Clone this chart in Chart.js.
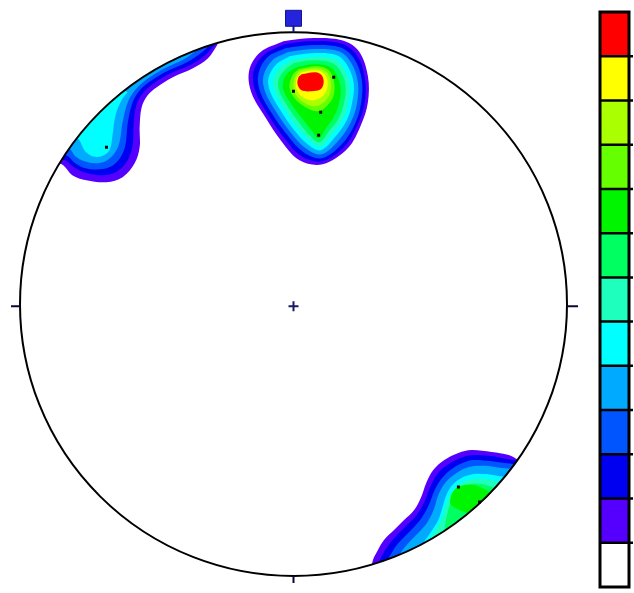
<!DOCTYPE html>
<html>
<head>
<meta charset="utf-8">
<script src="https://cdn.jsdelivr.net/npm/chart.js@4/dist/chart.umd.min.js"></script>
<style>
html,body{margin:0;padding:0;background:#fff;width:634px;height:593px;overflow:hidden}
#net{position:absolute;left:0;top:0}
#bar{position:absolute;left:596px;top:8px}
</style>
</head>
<body>
<canvas id="net" width="590" height="593"></canvas>
<canvas id="bar" width="38" height="585"></canvas>
<script>
// ---- contour level colours (0 = background ... 12 = maximum density) ----
const levelColors = ['#ffffff','#5500ff','#0000f0','#0055ff','#00aaff','#00ffff','#1effbe','#00ff60','#00f500','#66ff00','#aaff00','#ffff00','#ff0000'];
const colourBarSteps = [1,1,1,1,1,1,1,1,1,1,1,1,1];

// ---- projection: primitive circle radius in net units; extra room above for the north mark ----
const netRadius = 272;
const netTopLimit = 292;

// ---- contour polygons (net coordinates), one list per level, outermost first ----
const northCluster = [
  [[-10,263],[14,266],[48,264],[65,253],[74,228],[74,202],[67,179],[54,156],[29,140],[6,144],[-12,163],[-28,187],[-42,212],[-44,234],[-33,252],[-10,263]],
  [[-9,260],[14,263],[47,261],[63,249],[71,226],[71,202],[64,180],[51,158],[29,143],[8,148],[-9,166],[-25,189],[-38,213],[-40,232],[-30,249],[-9,260]],
  [[-8,256],[15,259],[46,257],[60,246],[68,224],[67,200],[61,180],[48,160],[28,146],[10,152],[-6,169],[-21,190],[-33,212],[-35,230],[-26,247],[-8,256]],
  [[-6,252],[16,255],[45,253],[57,242],[64,222],[63,200],[57,182],[45,164],[28,150],[12,156],[-3,172],[-17,192],[-28,212],[-30,228],[-21,244],[-6,252]],
  [[-4,248],[17,251],[43,249],[54,238],[60,220],[58,200],[53,184],[42,168],[27,154],[14,160],[0,175],[-13,194],[-23,212],[-25,226],[-17,240],[-4,248]],
  [[-2,244],[18,247],[41,245],[51,234],[56,218],[54,200],[49,185],[39,171],[27,158],[16,164],[3,178],[-9,196],[-18,212],[-20,225],[-13,237],[-2,244]],
  [[0,241],[19,244],[39,241],[48,231],[52,216],[50,200],[45,186],[36,174],[26,162],[17,168],[6,181],[-6,198],[-14,213],[-15,224],[-9,234],[0,241]],
  [[3,237],[21,240],[37,237],[44,227],[47,214],[45,200],[40,187],[33,177],[25,166],[18,174],[9,185],[-2,200],[-10,214],[-10,224],[-5,232],[3,237]],
  [[5,235],[23,238],[35,234],[40,224],[40,209],[33,198],[24,193],[12,197],[1,206],[-4,217],[-1,229],[5,235]],
  [[7,234],[23,236],[33,232],[37,223],[36,210],[29,201],[20,198],[10,202],[2,210],[0,220],[2,229],[7,234]],
  [[8,232],[23,234],[31,230],[34,222],[32,212],[26,206],[17,204],[8,208],[3,215],[3,225],[8,232]],
  [[8,230],[22,232],[28,229],[30,222],[27,215],[18,213],[8,214],[4,220],[5,227],[8,230]]
];
const westCluster = [
  [[-76,259],[-85,246],[-100,236],[-120,227],[-136,217],[-145,209],[-151,197],[-153,177],[-153,157],[-158,141],[-170,127],[-186,122],[-206,124],[-220,129],[-229,139],[-253,154],[-173,254],[-68,279]],
  [[-78,260],[-88,249],[-103,239],[-122,231],[-139,221],[-149,212],[-156,200],[-159,179],[-160,159],[-165,144],[-175,133],[-188,129],[-205,131],[-217,136],[-227,144],[-253,154],[-173,254],[-68,279]],
  [[-81,262],[-91,252],[-106,242],[-124,234],[-141,224],[-152,215],[-160,202],[-165,180],[-167,160],[-172,147],[-181,138],[-193,135],[-207,136],[-217,141],[-226,149],[-253,154],[-173,254],[-68,279]],
  [[-85,264],[-95,255],[-109,245],[-126,237],[-143,227],[-155,217],[-164,204],[-170,182],[-173,162],[-178,151],[-187,143],[-197,141],[-208,143],[-217,148],[-224,156],[-253,154],[-173,254],[-68,279]],
  [[-165,212],[-171,204],[-177,189],[-180,169],[-183,154],[-191,148],[-200,148],[-208,154],[-213,164],[-233,184],[-183,224]]
];
const southEastCluster = [
  [[67,-296],[77,-266],[79,-256],[84,-246],[90,-236],[100,-226],[110,-216],[120,-206],[127,-193],[132,-179],[139,-166],[150,-156],[164,-149],[177,-146],[197,-148],[214,-151],[224,-156],[267,-176],[207,-296]],
  [[67,-296],[83,-268],[85,-258],[90,-248],[96,-239],[105,-229],[115,-219],[124,-209],[131,-196],[136,-183],[143,-170],[153,-161],[166,-154],[178,-151],[196,-152],[212,-155],[227,-158],[267,-176],[207,-296]],
  [[67,-296],[90,-269],[92,-259],[97,-250],[102,-242],[110,-233],[120,-223],[128,-213],[135,-200],[140,-187],[147,-175],[156,-166],[168,-159],[179,-156],[195,-157],[210,-159],[229,-162],[267,-176],[207,-296]],
  [[67,-296],[99,-268],[101,-258],[105,-251],[110,-244],[117,-236],[126,-227],[134,-217],[140,-204],[144,-191],[150,-180],[158,-172],[169,-165],[180,-162],[194,-162],[207,-164],[229,-166],[267,-176],[207,-296]],
  [[67,-296],[112,-262],[117,-252],[124,-244],[131,-236],[138,-226],[144,-216],[148,-204],[152,-191],[158,-181],[167,-174],[179,-170],[192,-170],[204,-172],[227,-174],[267,-176],[207,-296]],
  [[67,-296],[132,-241],[140,-228],[147,-216],[151,-204],[155,-193],[161,-184],[169,-178],[179,-175],[190,-175],[201,-177],[222,-181],[267,-176],[207,-296]],
  [[67,-296],[147,-231],[152,-214],[155,-202],[159,-191],[166,-184],[176,-180],[187,-180],[197,-183],[212,-189],[267,-176],[207,-296]],
  [[177,-211],[157,-201],[157,-191],[162,-184],[170,-181],[179,-181],[188,-184],[199,-190],[227,-196],[230,-240]]
];

// ---- plotted poles and marks ----
const poles = [[40,227],[0,213],[27,192],[25,169],[-186,157],[164,-183],[185,-198]];
const centreMark = [[0,-2]];
const northMark = [[0,286]];

const toXY = arr => arr.map(p => ({x: p[0], y: p[1]}));

const datasets = [];
[northCluster, westCluster, southEastCluster].forEach(cluster => {
  cluster.forEach((poly, i) => {
    const level = i + 1;
    datasets.push({
      data: toXY(poly),
      isContour: true,
      showLine: true,
      fill: 'shape',
      backgroundColor: levelColors[level],
      borderColor: levelColors[level],
      borderWidth: 0,
      pointRadius: 0,
      tension: 0.35,
      order: 50 - level
    });
  });
});
datasets.push({data: toXY(poles), pointStyle: 'rect', pointRadius: 2.1, backgroundColor: '#000', borderWidth: 0, order: 2});
datasets.push({data: toXY(centreMark), pointStyle: 'cross', pointRadius: 5, borderColor: '#1a1a66', borderWidth: 2, order: 1});
datasets.push({data: toXY(northMark), pointStyle: 'rect', pointRadius: 11.3, backgroundColor: '#2424dc', borderColor: '#14148c', borderWidth: 1, order: 0, clip: false});

const netPlugin = {
  id: 'netPlugin',
  beforeDatasetsDraw(chart) {
    const {ctx, scales: {x, y}} = chart;
    const cx = x.getPixelForValue(0), cy = y.getPixelForValue(0);
    const rx = x.getPixelForValue(netRadius) - cx, ry = cy - y.getPixelForValue(netRadius);
    ctx.save();
    ctx.beginPath();
    ctx.ellipse(cx, cy, rx, ry, 0, 0, Math.PI * 2);
    ctx.clip();
    chart.$netClip = true;
  },
  beforeDatasetDraw(chart, args) {
    if (chart.$netClip && !chart.data.datasets[args.index].isContour) {
      chart.ctx.restore();
      chart.$netClip = false;
    }
  },
  afterDatasetsDraw(chart) {
    const {ctx, scales: {x, y}} = chart;
    if (chart.$netClip) { ctx.restore(); chart.$netClip = false; }
    const cx = x.getPixelForValue(0), cy = y.getPixelForValue(0);
    const rx = x.getPixelForValue(netRadius) - cx, ry = cy - y.getPixelForValue(netRadius);
    const tickY = y.getPixelForValue(centreMark[0][1]);
    ctx.save();
    ctx.strokeStyle = '#000';
    ctx.lineWidth = 2;
    ctx.beginPath();
    ctx.ellipse(cx, cy, rx, ry, 0, 0, Math.PI * 2);
    ctx.stroke();
    ctx.strokeStyle = '#0a0a30';
    ctx.beginPath();
    ctx.moveTo(cx - rx, tickY); ctx.lineTo(cx - rx - 9, tickY);
    ctx.moveTo(cx + rx, tickY); ctx.lineTo(cx + rx + 11, tickY);
    ctx.moveTo(cx, cy + ry); ctx.lineTo(cx, cy + ry + 7);
    ctx.stroke();
    ctx.strokeStyle = '#14148c';
    ctx.beginPath();
    ctx.moveTo(cx, cy - ry); ctx.lineTo(cx, y.getPixelForValue(northMark[0][1]) + 7);
    ctx.stroke();
    ctx.restore();
  }
};

new Chart(document.getElementById('net'), {
  type: 'scatter',
  data: {datasets},
  options: {
    responsive: false,
    animation: false,
    events: [],
    layout: {padding: {left: 20, right: 23, top: 12, bottom: 17}},
    scales: {
      x: {type: 'linear', min: -netRadius, max: netRadius, display: false},
      y: {type: 'linear', min: -netRadius, max: netTopLimit, display: false}
    },
    plugins: {legend: {display: false}, tooltip: {enabled: false}}
  },
  plugins: [netPlugin]
});

// ---- colour scale bar ----
const framePlugin = {
  id: 'framePlugin',
  afterDatasetsDraw(chart) {
    const {ctx, chartArea: a, scales: {y}} = chart;
    ctx.save();
    ctx.strokeStyle = '#000';
    ctx.lineWidth = 2.5;
    let acc = 0;
    ctx.beginPath();
    colourBarSteps.forEach((s, i) => {
      acc += s;
      if (i < colourBarSteps.length - 1) {
        const py = y.getPixelForValue(acc);
        ctx.moveTo(a.left, py); ctx.lineTo(a.right + 4, py);
      }
    });
    ctx.stroke();
    ctx.lineWidth = 3;
    ctx.strokeRect(a.left, a.top, a.right - a.left, a.bottom - a.top);
    ctx.restore();
  }
};

new Chart(document.getElementById('bar'), {
  type: 'bar',
  data: {
    labels: [''],
    datasets: levelColors.map((c, i) => ({
      data: [colourBarSteps[i]],
      backgroundColor: c,
      borderWidth: 0,
      barPercentage: 1,
      categoryPercentage: 1
    }))
  },
  options: {
    responsive: false,
    animation: false,
    events: [],
    layout: {padding: {left: 4, right: 5, top: 4, bottom: 6}},
    scales: {
      x: {stacked: true, display: false},
      y: {stacked: true, display: false, min: 0, max: colourBarSteps.reduce((a, b) => a + b, 0)}
    },
    plugins: {legend: {display: false}, tooltip: {enabled: false}}
  },
  plugins: [framePlugin]
});
</script>
</body>
</html>
